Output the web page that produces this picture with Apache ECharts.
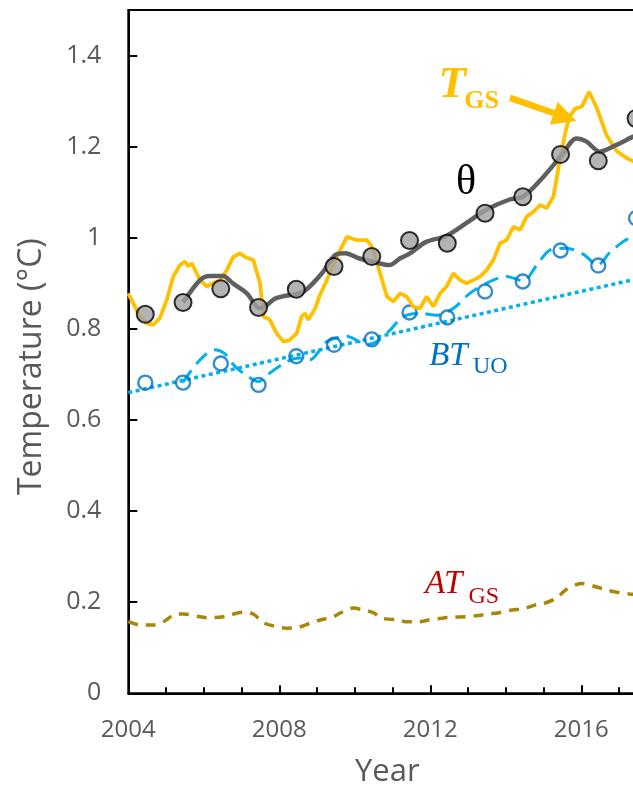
<!DOCTYPE html>
<html>
<head>
<meta charset="utf-8">
<script src="https://cdn.jsdelivr.net/npm/echarts@6/dist/echarts.min.js"></script>
<style>
html,body{margin:0;padding:0;background:#fff;}
#chart{width:633px;height:787px;}
</style>
</head>
<body>
<div id="chart"></div>
<script>
// ---- data ----
const years = [2004.45, 2005.45, 2006.45, 2007.45, 2008.45, 2009.45, 2010.45, 2011.45, 2012.45, 2013.45, 2014.45, 2015.45, 2016.45, 2017.45];
const thetaAnnual = [0.832, 0.858, 0.888, 0.847, 0.887, 0.937, 0.959, 0.994, 0.988, 1.054, 1.090, 1.183, 1.169, 1.262];
const btAnnual = [0.682, 0.682, 0.724, 0.677, 0.740, 0.765, 0.777, 0.836, 0.825, 0.882, 0.904, 0.972, 0.939, 1.043];

const thetaSmoothX = [2005.45, 2005.90, 2006.16, 2006.51, 2006.77, 2007.14, 2007.48, 2007.67, 2007.90, 2008.50, 2008.70, 2009.13, 2009.48, 2009.75, 2010.10, 2010.45, 2010.92, 2011.20, 2011.45, 2011.89, 2012.42, 2012.95, 2013.47, 2014.10, 2014.45, 2014.90, 2015.47, 2015.87, 2016.14, 2016.49, 2016.93, 2017.37, 2017.60];
const thetaSmoothY = [0.858, 0.907, 0.916, 0.916, 0.900, 0.878, 0.845, 0.852, 0.867, 0.878, 0.885, 0.922, 0.962, 0.966, 0.955, 0.948, 0.940, 0.955, 0.965, 0.991, 1.004, 1.032, 1.061, 1.084, 1.090, 1.125, 1.180, 1.218, 1.211, 1.189, 1.204, 1.222, 1.230];

const tgsX = [2004.00, 2004.31, 2004.49, 2004.66, 2004.84, 2005.02, 2005.19, 2005.37, 2005.50, 2005.59, 2005.68, 2005.90, 2006.08, 2006.24, 2006.43, 2006.61, 2006.78, 2006.96, 2007.09, 2007.31, 2007.49, 2007.58, 2007.75, 2007.93, 2008.11, 2008.28, 2008.46, 2008.59, 2008.68, 2008.77, 2008.95, 2009.08, 2009.26, 2009.52, 2009.79, 2010.05, 2010.32, 2010.45, 2010.67, 2010.85, 2011.02, 2011.20, 2011.37, 2011.55, 2011.73, 2011.90, 2012.08, 2012.26, 2012.43, 2012.61, 2012.79, 2012.96, 2013.14, 2013.32, 2013.49, 2013.67, 2013.85, 2014.02, 2014.20, 2014.38, 2014.55, 2014.73, 2014.91, 2015.08, 2015.26, 2015.44, 2015.61, 2015.70, 2015.83, 2016.01, 2016.21, 2016.41, 2016.67, 2016.94, 2017.20, 2017.38, 2017.60];
const tgsY = [0.878, 0.827, 0.812, 0.809, 0.824, 0.864, 0.915, 0.940, 0.948, 0.937, 0.944, 0.907, 0.893, 0.900, 0.907, 0.929, 0.958, 0.966, 0.958, 0.951, 0.900, 0.827, 0.820, 0.790, 0.772, 0.776, 0.790, 0.827, 0.834, 0.820, 0.845, 0.875, 0.907, 0.958, 1.002, 0.995, 0.995, 0.981, 0.922, 0.871, 0.860, 0.878, 0.871, 0.849, 0.845, 0.871, 0.849, 0.878, 0.893, 0.922, 0.907, 0.900, 0.907, 0.915, 0.929, 0.951, 0.988, 0.995, 1.024, 1.017, 1.046, 1.057, 1.072, 1.065, 1.090, 1.175, 1.244, 1.266, 1.283, 1.288, 1.320, 1.285, 1.225, 1.190, 1.175, 1.168, 1.160];

const btSmoothX = [2005.44, 2005.90, 2006.28, 2006.56, 2006.83, 2007.18, 2007.44, 2007.75, 2008.20, 2008.55, 2008.81, 2009.26, 2009.79, 2010.32, 2010.58, 2010.93, 2011.28, 2011.73, 2012.17, 2012.61, 2013.05, 2013.58, 2014.02, 2014.46, 2014.82, 2015.17, 2015.61, 2016.05, 2016.43, 2016.76, 2017.10, 2017.37, 2017.60];
const btSmoothY = [0.682, 0.732, 0.754, 0.745, 0.717, 0.695, 0.684, 0.703, 0.728, 0.736, 0.732, 0.772, 0.784, 0.765, 0.772, 0.797, 0.827, 0.834, 0.830, 0.845, 0.878, 0.904, 0.915, 0.905, 0.940, 0.973, 0.977, 0.964, 0.940, 0.968, 0.991, 1.004, 1.012];

const trendX = [2004.0, 2017.6];
const trendY = [0.660, 0.912];

const atX = [2004.00, 2004.31, 2004.66, 2004.93, 2005.28, 2005.46, 2005.90, 2006.08, 2006.52, 2006.70, 2007.05, 2007.31, 2007.58, 2007.84, 2008.20, 2008.46, 2008.82, 2009.08, 2009.43, 2009.61, 2009.96, 2010.23, 2010.49, 2010.72, 2011.16, 2011.34, 2011.70, 2011.96, 2012.32, 2012.58, 2012.94, 2013.20, 2013.55, 2013.82, 2014.17, 2014.44, 2014.79, 2014.97, 2015.32, 2015.59, 2015.85, 2016.03, 2016.38, 2016.65, 2017.00, 2017.27, 2017.60];
const atY = [0.158, 0.150, 0.150, 0.157, 0.174, 0.174, 0.168, 0.166, 0.168, 0.172, 0.178, 0.174, 0.155, 0.148, 0.143, 0.144, 0.154, 0.161, 0.168, 0.176, 0.187, 0.183, 0.177, 0.165, 0.161, 0.157, 0.157, 0.161, 0.165, 0.167, 0.168, 0.170, 0.174, 0.177, 0.183, 0.185, 0.194, 0.196, 0.208, 0.227, 0.238, 0.241, 0.234, 0.227, 0.221, 0.218, 0.216];

const xTickLabels = [2004, 2008, 2012, 2016];

// annotation anchors (data coords)
const arrowFrom = [2014.11, 1.307];
const arrowTo = [2015.57, 1.265];

function zip(xs, ys) { return xs.map((x, i) => [x, ys[i]]); }

const chart = echarts.init(document.getElementById('chart'), null, {renderer: 'canvas'});
const FONT = 'Open Sans';
const GRAY = '#595959';

chart.setOption({
  animation: false,
  backgroundColor: '#fff',
  grid: {left: 128.3, top: 10, width: 604, height: 683.3, show: true, borderColor: '#000', borderWidth: 2,
    containLabel: false, outerBoundsMode: 'none'},
  xAxis: {
    type: 'value', min: 2004, max: 2020, interval: 4,
    name: 'Year', nameLocation: 'middle', nameGap: 63,
    nameTextStyle: {fontFamily: FONT, fontSize: 31, color: GRAY, padding: [0, 86, 0, 0]},
    axisLine: {lineStyle: {color: '#000', width: 2}},
    axisTick: {inside: true, length: 8, lineStyle: {color: '#000', width: 2}},
    minorTick: {show: true, splitNumber: 4, length: 6, lineStyle: {color: '#000', width: 2}},
    splitLine: {show: false},
    axisLabel: {
      fontFamily: FONT, fontSize: 24, color: GRAY, margin: 25,
      formatter: v => xTickLabels.indexOf(Math.round(v)) >= 0 ? String(Math.round(v)) : ''
    }
  },
  yAxis: {
    type: 'value', min: 0, max: 1.5, interval: 0.2,
    name: 'Temperature (°C)', nameLocation: 'middle', nameGap: 80, nameRotate: 90,
    nameTextStyle: {fontFamily: FONT, fontSize: 32, color: GRAY, padding: [0, 30, 0, 0]},
    axisLine: {lineStyle: {color: '#000', width: 2}},
    axisTick: {inside: true, length: 9, lineStyle: {color: '#000', width: 2}},
    splitLine: {show: false},
    axisLabel: {
      fontFamily: FONT, fontSize: 25, color: GRAY, margin: 27, showMaxLabel: false,
      formatter: v => v > 1.45 ? '' : String(Math.round(v * 10) / 10)
    }
  },
  series: [
    {
      name: 'ATGS', type: 'line', data: zip(atX, atY), showSymbol: false, smooth: 0.3,
      lineStyle: {color: '#A8860A', width: 3.5, type: [10, 8]}, z: 2
    },
    {
      name: 'trend', type: 'line', data: zip(trendX, trendY), showSymbol: false,
      lineStyle: {color: '#00B0F0', width: 3.5, type: [4, 3.5]}, z: 2
    },
    {
      name: 'BTUO smooth', type: 'line', data: zip(btSmoothX, btSmoothY), showSymbol: false, smooth: 0.3,
      lineStyle: {color: '#00B0F0', width: 3, type: [15, 8]}, z: 3
    },
    {
      name: 'BTUO', type: 'scatter', data: zip(years, btAnnual), symbol: 'circle', symbolSize: 14,
      itemStyle: {color: 'rgba(255,255,255,0)', borderColor: '#0070C0', borderWidth: 2.4}, z: 4
    },
    {
      name: 'TGS', type: 'line', data: zip(tgsX, tgsY), showSymbol: false,
      lineStyle: {color: '#FFC000', width: 3.8}, z: 5,
      markLine: {
        silent: true, symbol: ['none', 'triangle'], symbolSize: [24, 24],
        label: {show: false},
        lineStyle: {color: '#FFC000', width: 6.5, type: 'solid'},
        data: [[{coord: arrowFrom}, {coord: arrowTo}]]
      }
    },
    {
      name: 'theta smooth', type: 'line', data: zip(thetaSmoothX, thetaSmoothY), showSymbol: false, smooth: 0.3,
      lineStyle: {color: '#5F5F5F', width: 4.5}, z: 6
    },
    {
      name: 'theta', type: 'scatter', data: zip(years, thetaAnnual), symbol: 'circle', symbolSize: 17,
      itemStyle: {color: '#A0A0A0', borderColor: '#000', borderWidth: 2}, z: 7
    }
  ]
});

// text annotations placed from data coordinates
const labels = [
  {pos: [2012.22, 1.334], text: 'T', font: 'bold italic 45px "Liberation Serif"', color: '#FFC000'},
  {pos: [2012.90, 1.299], text: 'GS', font: 'bold 26px "Liberation Serif"', color: '#FFC000'},
  {pos: [2012.68, 1.121], text: 'θ', font: '42px "Liberation Serif"', color: '#000'},
  {pos: [2011.97, 0.739], text: 'BT', font: 'italic 33px "Liberation Serif"', color: '#0070C0'},
  {pos: [2013.13, 0.717], text: 'UO', font: '24px "Liberation Serif"', color: '#0070C0'},
  {pos: [2011.86, 0.2395], text: 'AT', font: 'italic 33px "Liberation Serif"', color: '#C00000'},
  {pos: [2013.01, 0.212], text: 'GS', font: '24px "Liberation Serif"', color: '#C00000'}
];
chart.setOption({
  graphic: labels.map(l => {
    const p = chart.convertToPixel({gridIndex: 0}, l.pos);
    return {type: 'text', x: p[0], y: p[1], silent: true,
      style: {text: l.text, font: l.font, fill: l.color, align: 'left', verticalAlign: 'middle'}};
  })
});
</script>
</body>
</html>
